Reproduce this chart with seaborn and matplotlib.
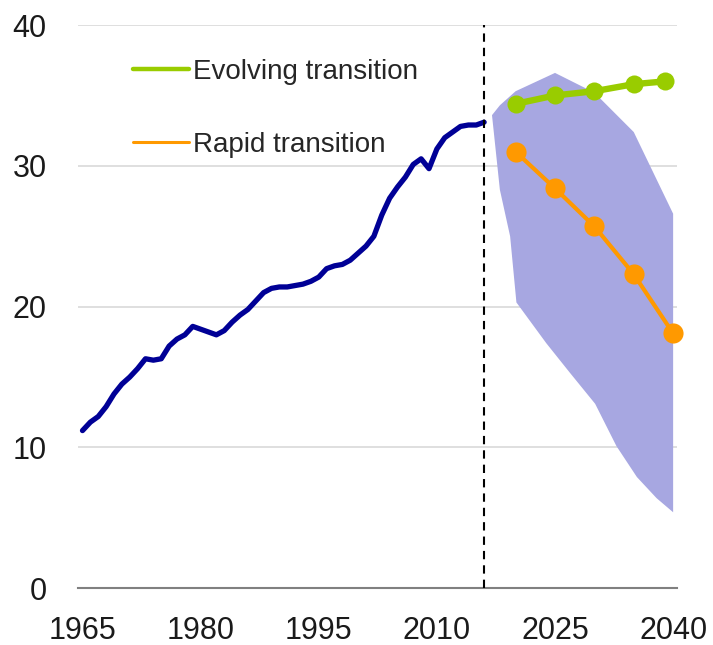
import matplotlib
matplotlib.use("Agg")
import matplotlib.pyplot as plt
from matplotlib.lines import Line2D
import seaborn as sns

# historical series (1965-2016)
hist_years = list(range(1965, 2017))
hist_values = [
    11.2, 11.8, 12.2, 12.9, 13.8,
    14.5, 15.0, 15.6, 16.3, 16.2, 16.3, 17.2, 17.7, 18.0, 18.6,
    18.4, 18.2, 18.0, 18.3, 18.9, 19.4, 19.8, 20.4, 21.0, 21.3,
    21.4, 21.4, 21.5, 21.6, 21.8, 22.1, 22.7, 22.9, 23.0, 23.3,
    23.8, 24.3, 25.0, 26.5, 27.7, 28.5, 29.2, 30.1, 30.5, 29.8,
    31.2, 32.0, 32.4, 32.8, 32.9, 32.9, 33.1,
]

# scenarios
evolving_years = [2020, 2025, 2030, 2035, 2039]
evolving_values = [34.4, 35.0, 35.3, 35.8, 36.0]
rapid_years = [2020, 2025, 2030, 2035, 2040]
rapid_values = [31.0, 28.4, 25.7, 22.3, 18.1]

# outline of the range of outlooks (upper edge, then lower edge back)
band_years = [2017.0, 2018.0, 2020.0, 2025.0, 2030.0, 2035.0, 2040.0,
              2040.0, 2037.9, 2035.4, 2032.8, 2030.1, 2026.9, 2023.9,
              2020.1, 2019.3, 2018.0]
band_values = [33.6, 34.3, 35.3, 36.6, 35.2, 32.4, 26.6,
               5.4, 6.4, 7.9, 10.1, 13.1, 15.3, 17.4,
               20.3, 25.0, 28.3]

forecast_start = 2016

labels = ["Evolving transition", "Rapid transition"]
x_ticks = [1965, 1980, 1995, 2010, 2025, 2040]
y_ticks = [0, 10, 20, 30, 40]

NAVY = "#000096"
GREEN = "#99CC00"
ORANGE = "#FF9900"
BAND = "#A7A7E1"

sns.set_theme(style="white")
plt.rcParams["font.family"] = ["Liberation Sans", "DejaVu Sans"]

fig = plt.figure(figsize=(7.13, 6.45), dpi=100)
ax = fig.add_axes([0.1094, 0.0879, 0.8401, 0.8733])

ax.fill(band_years, band_values, color=BAND, lw=0, zorder=1)

sns.lineplot(x=hist_years, y=hist_values, ax=ax, color=NAVY, lw=3.8, zorder=3)
sns.lineplot(x=evolving_years, y=evolving_values, ax=ax, color=GREEN, lw=4.6,
             marker="o", markersize=13, markeredgewidth=0, zorder=4, clip_on=False)
sns.lineplot(x=rapid_years, y=rapid_values, ax=ax, color=ORANGE, lw=3.0,
             marker="o", markersize=14.5, markeredgewidth=0, zorder=4, clip_on=False)

ax.axvline(forecast_start, color="black", lw=1.5, dashes=(4, 2.9), zorder=5)

ax.set_xlim(1964.43, 2040.49)
ax.set_ylim(0, 40)
ax.set_xticks(x_ticks)
ax.set_yticks(y_ticks)
ax.yaxis.grid(True, color="#D9D9D9", lw=1.2)
ax.set_axisbelow(True)
for side in ["left", "right", "top"]:
    ax.spines[side].set_visible(False)
ax.spines["bottom"].set_color("#808080")
ax.spines["bottom"].set_linewidth(1.5)
ax.tick_params(axis="both", length=0, labelsize=22, labelcolor="#1a1a1a")
ax.tick_params(axis="x", pad=20)
ax.tick_params(axis="y", pad=22.5)
ax.set_xlabel("")
ax.set_ylabel("")

handles = [Line2D([0], [0], color=GREEN, lw=3.2, solid_capstyle="round"),
           Line2D([0], [0], color=ORANGE, lw=2.2, solid_capstyle="round")]
ax.legend(handles, labels, loc="upper left", bbox_to_anchor=(0.092, 0.940),
          frameon=False, fontsize=20, handlelength=2.0, handletextpad=0.16,
          labelspacing=1.7, borderpad=0, borderaxespad=0)

fig.savefig("out.png", dpi=100)
